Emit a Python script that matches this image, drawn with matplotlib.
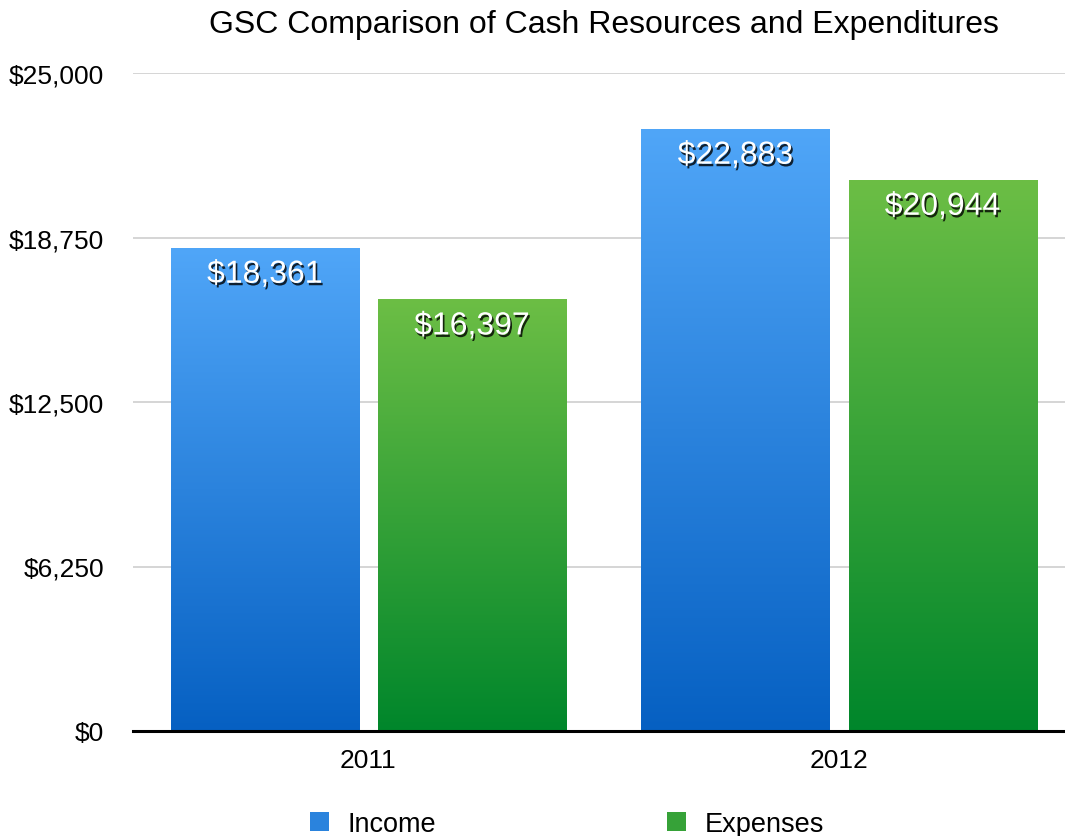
import numpy as np
import matplotlib
matplotlib.use("Agg")
import matplotlib.pyplot as plt
import matplotlib.patheffects as pe
from matplotlib.colors import LinearSegmentedColormap
from matplotlib.patches import Patch

# data
YEARS = ["2011", "2012"]
INCOME = [18361, 22883]
EXPENSES = [16397, 20944]
SERIES = ["Income", "Expenses"]
Y_TICKS = [0, 6250, 12500, 18750, 25000]

# gradient colours (top, bottom) per series
BLUE = ("#50a6f8", "#0660c2")
GREEN = ("#6cbe45", "#00862b")

plt.rcParams['font.family'] = ['Liberation Sans', 'DejaVu Sans']

fig = plt.figure(figsize=(10.65, 8.37), dpi=100)
ax = fig.add_axes([133 / 1065, 105 / 837, 941.5 / 1065, 658 / 837])

x = np.arange(len(YEARS))
width = 0.40
offset = 0.22

grad = np.linspace(1, 0, 256).reshape(-1, 1)


def gradient_bars(bars, colors):
    cmap = LinearSegmentedColormap.from_list("g", [colors[1], colors[0]])
    for b in bars:
        x0, y0 = b.get_x(), b.get_y()
        im = ax.imshow(grad, cmap=cmap, aspect='auto', zorder=3,
                       extent=[x0, x0 + b.get_width(), y0, y0 + b.get_height()])
        im.set_clip_path(b)


inc_bars = ax.bar(x - offset, INCOME, width, color=BLUE[0], zorder=2)
exp_bars = ax.bar(x + offset, EXPENSES, width, color=GREEN[0], zorder=2)
gradient_bars(inc_bars, BLUE)
gradient_bars(exp_bars, GREEN)

shadow = [pe.SimplePatchShadow(offset=(1.2, -1.8), shadow_rgbFace='black', alpha=0.8),
          pe.Normal()]
for bars, vals in ((inc_bars, INCOME), (exp_bars, EXPENSES)):
    for b, v in zip(bars, vals):
        ax.annotate("${:,}".format(v), (b.get_x() + b.get_width() / 2, v),
                    xytext=(0, -27), textcoords='offset pixels',
                    ha='center', va='center', fontsize=23, color='white',
                    zorder=5, path_effects=shadow)

ax.set_xlim(-0.5, 1.5)
ax.set_ylim(0, 25000)
ax.set_yticks(Y_TICKS)
ax.set_yticklabels(["${:,}".format(t) for t in Y_TICKS])
ax.set_xticks(x)
ax.set_xticklabels(YEARS)
ax.tick_params(axis='y', length=0, pad=21, labelsize=19)
ax.tick_params(axis='x', length=0, pad=12, labelsize=19)

ax.grid(axis='y', color='#d2d2d2', linewidth=1.3, zorder=0)
ax.set_axisbelow(True)
for s in ('top', 'right', 'left'):
    ax.spines[s].set_visible(False)
ax.spines['bottom'].set_linewidth(2.2)
ax.spines['bottom'].set_zorder(6)

# title sits above the plot, centred on the (partly off-canvas) axes
fig.text(604 / 1065, 1 - 25 / 837,
         "GSC Comparison of Cash Resources and Expenditures",
         fontsize=23, ha='center', va='center')

handles = [Patch(facecolor="#2a83dd", label=SERIES[0]),
           Patch(facecolor="#36a238", label=SERIES[1])]
fig.legend(handles=handles, loc='center', bbox_to_anchor=(567 / 1065, 12 / 837),
           ncol=2, frameon=False, fontsize=19.5, handlelength=0.7,
           handleheight=0.7, handletextpad=0.7, columnspacing=8.5)

fig.savefig("out.png", dpi=100)
